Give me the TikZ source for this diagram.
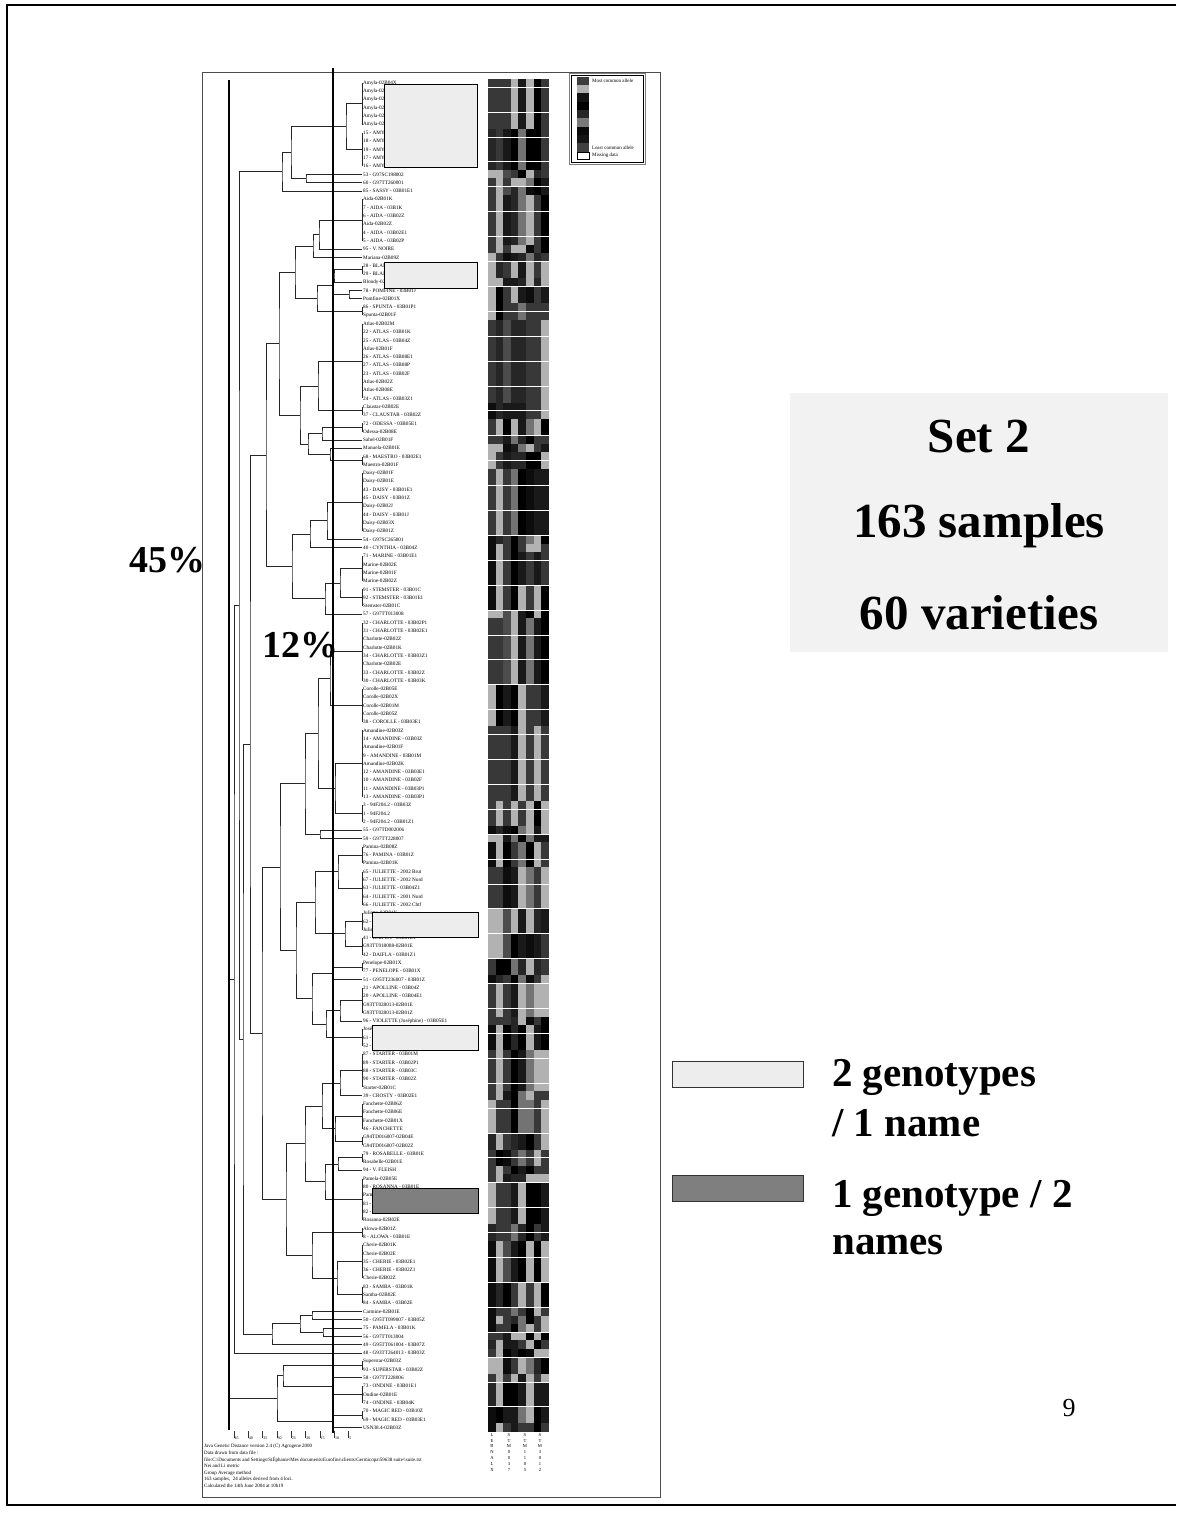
\documentclass[tikz,border=0pt]{standalone}
\usepackage{fontspec}
\setmainfont{Liberation Serif}
\usetikzlibrary{positioning}
\definecolor{SetPanel}{HTML}{F2F2F2}
\definecolor{BoxLight}{HTML}{EDEDED}
\definecolor{BoxDark}{HTML}{7F7F7F}
\definecolor{FrameGray}{HTML}{808080}
% vertical bar joining identical leaves, midpoint named #1
\newcommand{\tgroup}[3]{\draw[tree] (l#2.west) -- (l#3.west) coordinate[midway] (#1);}
% bracket joining #3 and #4 at x=#2, join point named #1
\newcommand{\tjoin}[4]{%
  \path (#3) -- (#4) coordinate[midway] (m#1);
  \coordinate (x#1) at (#2,0);
  \coordinate (#1) at (x#1 |- m#1);
  \draw[tree] (#3) -| (#1) |- (#4);}

\begin{document}
\begin{tikzpicture}[x=1pt,y=-1pt,
  tree/.style={draw=black!85,line width=.75pt},
  leaf/.style={anchor=west,inner xsep=1pt,inner ysep=0pt,font=\fontsize{5.2}{6}\selectfont},
  tiny/.style={anchor=west,inner sep=0pt,font=\fontsize{5}{6}\selectfont},
  cut/.style={draw=black,line width=1.7pt},
  hibox/.style={draw=black,line width=1pt,fill=BoxLight},
  big/.style={font=\fontsize{41}{49}\selectfont\bfseries,anchor=base west,inner sep=0pt},
  huge/.style={font=\fontsize{49}{58}\selectfont\bfseries,inner sep=0pt}]
\useasboundingbox (0,0) rectangle (1176,1513);

% page frame and plot frame
\draw[line width=2.5pt] (1176,5) -- (7,5) -- (7,1505) -- (1176,1505);
\draw[black!70,line width=.8pt] (202,72) rectangle (660,1497);

% allele map
\pgfmathsetseed{12}
\foreach \a/\b in {1/6,7/11,12/12,13/13,14/14,15/20,21/21,22/22,23/24,25/25,26/27,28/29,30/39,40/41,42/43,44/44,45/45,46/47,48/55,56/56,57/57,58/61,62/64,65/65,66/73,74/78,79/87,88/90,91/91,92/92,93/95,96/100,101/103,104/106,107/108,109/109,110/113,114/114,115/117,118/122,123/123,124/127,128/129,130/131,132/132,133/133,134/138,139/140,141/145,146/148,149/149,150/150,151/151,152/152,153/153,154/154,155/156,157/157,158/160,161/162,163/163}{
  \foreach \j in {0,...,7}{
    \pgfmathrandominteger{\k}{0}{5}
    \pgfmathtruncatemacro{\g}{{78,78,78,85,95,30, 30,30,30,78,85,100, 78,78,90,95,100,70, 85,90,100,78,55,30, 55,78,90,100,30,85, 30,30,78,55,95,100, 90,78,100,85,30,78, 30,78,90,100,78,30}[\j*6+\k]}
    \fill[black!\g] ({488+\j*7.6},{83+(\a-1)*8.3-4.15}) rectangle ({488+(\j+1)*7.6},{83+(\b-1)*8.3+4.15});
  }
}
\foreach \r in {1,4,...,160}
  \draw[white,line width=.8pt] (488,{83+(\r-1)*8.3+4.15}) -- (549,{83+(\r-1)*8.3+4.15});

% leaves
\foreach \lab [count=\i] in {Amyla-02B04X, Amyla-02B01E, Amyla-02B01K, Amyla-02B02E, Amyla-02B02Z, Amyla-02B01F,
  15 - AMYLA - 03B01E1, 18 - AMYLA - 03B02Z, 19 - AMYLA - 03B03K, 17 - AMYLA - 03B02E1, 16 - AMYLA - 03B01Z,
  53 - G97SC198002, 60 - G97TT260001, 85 - SASSY - 03B01E1,
  Aida-02B01K, 7 - AIDA - 03B1K, 6 - AIDA - 03B02Z, Aida-02B02Z, 4 - AIDA - 03B02E1, 5 - AIDA - 03B02P,
  95 - V. NOIRE, Mariana-02B09Z, 28 - BLANCHE - 03B01K, 29 - BLANCHE - 03B02Z, Blondy-02B01E,
  78 - POMFINE - 03B01J, Pomfine-02B01X, 86 - SPUNTA - 03B01P1, Spunta-02B01F,
  Atlas-02B02M, 22 - ATLAS - 03B01K, 25 - ATLAS - 03B04Z, Atlas-02B01F, 26 - ATLAS - 03B08E1,
  27 - ATLAS - 03B08P, 23 - ATLAS - 03B02F, Atlas-02B02Z, Atlas-02B08E, 24 - ATLAS - 03B03Z1,
  Claustar-02B02E, 37 - CLAUSTAR - 03B02Z, 72 - ODESSA - 03B05E1, Odessa-02B08E, Sahel-02B01F,
  Manuela-02B01E, 68 - MAESTRO - 03B02E1, Maestro-02B01F,
  Daisy-02B01F, Daisy-02B01E, 43 - DAISY - 03B01E1, 45 - DAISY - 03B01Z, Daisy-02B02J,
  44 - DAISY - 03B01J, Daisy-02B03X, Daisy-02B01Z, 54 - G97SC265001, 40 - CYNTHIA - 03B04Z,
  71 - MARINE - 03B01E1, Marine-02B02E, Marine-02B01F, Marine-02B02Z,
  91 - STEMSTER - 03B01C, 92 - STEMSTER - 03B01E1, Stemster-02B01C, 57 - G97TT013008,
  32 - CHARLOTTE - 03B02P1, 31 - CHARLOTTE - 03B02E1, Charlotte-02B02Z, Charlotte-02B01K,
  34 - CHARLOTTE - 03B03Z1, Charlotte-02B02E, 33 - CHARLOTTE - 03B02Z, 30 - CHARLOTTE - 03B03K,
  Corolle-02B05E, Corolle-02B02X, Corolle-02B01M, Corolle-02B05Z, 38 - COROLLE - 03B03E1,
  Amandine-02B03Z, 14 - AMANDINE - 03B03Z, Amandine-02B01F, 9 - AMANDINE - 03B01M, Amandine-02B02K,
  12 - AMANDINE - 03B03E1, 10 - AMANDINE - 03B02F, 11 - AMANDINE - 03B03P1, 13 - AMANDINE - 03B03P1,
  3 - 94F204.2 - 03B03Z, 1 - 94F204.2, 2 - 94F204.2 - 03B01Z1, 55 - G97TD002006, 59 - G97TT228007,
  Pamina-02B08Z, 76 - PAMINA - 03B01Z, Pamina-02B01K,
  65 - JULIETTE - 2002 Brut, 67 - JULIETTE - 2002 Nord, 63 - JULIETTE - 03B04Z1, 64 - JULIETTE - 2001 Nord,
  66 - JULIETTE - 2002 Chtf, Juliette-02B01K, 62 - JULIETTE - 03B02Z, Juliette-02B02E,
  41 - DAIFLA - 03B01E1, G93TT018008-02B01E, 42 - DAIFLA - 03B01Z1,
  Penelope-02B01X, 77 - PENELOPE - 03B01X, 51 - G95TT236007 - 03B01Z,
  21 - APOLLINE - 03B04Z, 20 - APOLLINE - 03B04E1, G93TT028013-02B01E, G93TT028013-02B01Z,
  96 - VIOLETTE (Joséphine) - 03B05E1, Joséphine-02B01E, 61 - JOSEPHINE - 03B01Z, 52 - G95TT236008,
  87 - STARTER - 03B01M, 89 - STARTER - 03B02P1, 88 - STARTER - 03B03C, 90 - STARTER - 03B02Z,
  Starter-02B01C, 39 - CROSTY - 03B02E1,
  Fanchette-02B06Z, Fanchette-02B06E, Fanchette-02B01X, 46 - FANCHETTE,
  G94TD016007-02B04E, G94TD016007-02B02Z, 79 - ROSABELLE - 03B01E, Rosabelle-02B01E, 94 - V. FLEISH,
  Pamela-02B05E, 80 - ROSANNA - 03B01E, Pamela-02B01K, 81 - PAMELA - 03B01E, 82 - PAMELA - 03B02Z,
  Rosanna-02B02E, Alowa-02B01Z, 8 - ALOWA - 03B01E,
  Cherie-02B01K, Cherie-02B02E, 35 - CHERIE - 03B02E1, 36 - CHERIE - 03B02Z1, Cherie-02B02Z,
  83 - SAMBA - 03B01K, Samba-02B02E, 84 - SAMBA - 03B02E, Carmine-02B01E,
  50 - G95TT099007 - 03B05Z, 75 - PAMELA - 03B01K, 56 - G97TT013004,
  49 - G95TT061004 - 03B07Z, 48 - G93TT264013 - 03B03Z,
  Superstar-02B03Z, 93 - SUPERSTAR - 03B02Z, 58 - G97TT228006,
  73 - ONDINE - 03B01E1, Ondine-02B01E, 74 - ONDINE - 03B04K,
  70 - MAGIC RED - 03B10Z, 69 - MAGIC RED - 03B03E1, USN38.4-02B03Z}
  \node[leaf] (l\i) at (362,{83+(\i-1)*8.3}) {\lab};

% tree, top part
\tgroup{ga}{1}{6}
\tgroup{gb}{7}{11}
\tjoin{n1}{346}{ga}{gb}
\tjoin{n2}{306}{l12.west}{l13.west}
\tjoin{n3}{291}{n1}{n2}
\tjoin{n4}{282}{n3}{l14.west}
\tgroup{gc}{15}{20}
\tjoin{n5}{319}{gc}{l21.west}
\tjoin{n6}{313}{n5}{l22.west}
\tgroup{gd}{23}{24}
\tjoin{n7}{334}{gd}{l25.west}
\tjoin{n8}{349}{l26.west}{l27.west}
\tjoin{n9}{332}{n7}{n8}
\tgroup{gf}{28}{29}
\tjoin{n10}{317}{n9}{gf}
\tjoin{n11}{295}{n6}{n10}
\tgroup{gg}{30}{39}
\tgroup{gh}{40}{41}
\tjoin{n12}{318}{gg}{gh}
\tgroup{gi}{42}{43}
\tjoin{n13}{322}{gi}{l44.west}
\tgroup{gj}{46}{47}
\tjoin{n14}{330}{l45.west}{gj}
\tjoin{n15}{308}{n13}{n14}
\tjoin{n16}{300}{n12}{n15}
\tjoin{n17}{279}{n11}{n16}
\tgroup{gk}{48}{55}
\tjoin{n18}{327}{gk}{l56.west}
\tjoin{n19}{310}{n18}{l57.west}
\tgroup{gl}{58}{61}
\tgroup{gm}{62}{64}
\tjoin{n20}{340}{gl}{gm}
\tjoin{n21}{325}{n20}{l65.west}
\tjoin{n22}{292}{n19}{n21}
\tjoin{n23}{266}{n17}{n22}
% middle part
\tgroup{go}{66}{73}
\tgroup{gp}{74}{78}
\tjoin{n24}{330}{go}{gp}
\tgroup{gq}{79}{87}
\tgroup{gr}{88}{90}
\tjoin{n25}{335}{gq}{gr}
\tjoin{n26}{318}{n24}{n25}
\tjoin{n27}{320}{l91.west}{l92.west}
\tjoin{n28}{305}{n26}{n27}
\tgroup{gs}{93}{95}
\tgroup{gt}{96}{100}
\tjoin{n29}{338}{gs}{gt}
\tgroup{gu}{101}{103}
\tgroup{gv}{104}{106}
\tjoin{n30}{345}{gu}{gv}
\tjoin{n31}{315}{n29}{n30}
\tgroup{gw}{107}{108}
\tjoin{n32}{332}{gw}{l109.west}
\tgroup{gx}{110}{113}
\tjoin{n33}{340}{gx}{l114.west}
\tgroup{gy}{115}{117}
\tjoin{n34}{326}{n33}{gy}
\tjoin{n35}{312}{n32}{n34}
\tjoin{n36}{296}{n31}{n35}
\tjoin{n37}{280}{n28}{n36}
\tgroup{gz}{118}{122}
\tjoin{n38}{340}{gz}{l123.west}
\tgroup{ha}{124}{127}
\tgroup{hb}{128}{129}
\tjoin{n39}{335}{ha}{hb}
\tjoin{n40}{322}{n38}{n39}
\tgroup{hc}{130}{131}
\tjoin{n41}{338}{hc}{l132.west}
\tgroup{hd}{133}{138}
\tjoin{n42}{325}{n41}{hd}
\tjoin{n43}{305}{n40}{n42}
\tgroup{he}{139}{140}
\tgroup{hf}{141}{145}
\tgroup{hg}{146}{148}
\tjoin{n44}{337}{hf}{hg}
\tjoin{n45}{312}{he}{n44}
\tjoin{n46}{286}{n43}{n45}
\tjoin{n47}{262}{n37}{n46}
\tjoin{n48}{250}{n23}{n47}
% bottom part and root
\tjoin{n49}{312}{l149.west}{l150.west}
\tjoin{n50}{323}{l151.west}{l152.west}
\tjoin{n51}{300}{n49}{n50}
\tjoin{n52}{272}{n51}{l153.west}
\tjoin{n53}{243}{n48}{n52}
\tjoin{n54}{239}{n4}{n53}
\tjoin{n55}{234}{n54}{l154.west}
\tgroup{hh}{155}{156}
\tgroup{hi}{158}{160}
\tjoin{n56}{333}{l157.west}{hi}
\tjoin{n57}{283}{hh}{n56}
\tgroup{hj}{161}{162}
\tjoin{n58}{333}{hj}{l163.west}
\tjoin{n59}{277}{n57}{n58}
\tjoin{n60}{229}{n55}{n59}

% cut levels
\draw[cut] (229,80) -- (229,1430);
\draw[cut] (333,68) -- (333,1433);

% distance axis
\foreach \v in {45,40,...,5}{
  \draw[black!80,line width=.5pt] ({363-\v*2.87},1431) -- ({363-\v*2.87},1438);
  \node[anchor=west,inner sep=0pt,font=\fontsize{4}{5}\selectfont] (t\v) at ({363.5-\v*2.87},1438) {\v};
}

% highlighted name groups
\draw[hibox] (384,84) rectangle (477,167);
\draw[hibox] (384,262) rectangle (477,288);
\draw[hibox] (372,912) rectangle (478,937);
\draw[hibox] (372,1025) rectangle (478,1050);
\draw[hibox,fill=BoxDark] (372,1188) rectangle (478,1213);

% allele legend
\draw[FrameGray,line width=.6pt] (569,73) rectangle (645,164);
\draw[line width=.6pt] (571,75) rectangle (643,162);
\foreach \c [count=\k] in {black!76,black!30,black!92,black,black!85,black!52,black!96,black!92,black!75}
  \fill[\c] (577,{81+(\k-1)*8.3-4.15}) rectangle (589,{81+(\k-1)*8.3+4.15});
\draw[line width=.5pt,fill=white] (577,{155.7-3.3}) rectangle (589,{155.7+3.3});
\node[tiny] (most) at (592,81) {Most common allele};
\node[tiny] (least) at (592,147.4) {Least common allele};
\node[tiny] (miss) at (592,155.7) {Missing data};

% locus names
\node[anchor=north,inner sep=0pt,align=center,font=\fontsize{4.6}{5.8}\selectfont] (loc1) at (492,1433) {L\\E\\R\\N\\A\\L\\X};
\node[anchor=north,inner sep=0pt,align=center,font=\fontsize{4.6}{5.8}\selectfont] (loc2) at (509,1433) {S\\T\\M\\0\\0\\3\\7};
\node[anchor=north,inner sep=0pt,align=center,font=\fontsize{4.6}{5.8}\selectfont] (loc3) at (525,1433) {S\\T\\M\\1\\1\\0\\5};
\node[anchor=north,inner sep=0pt,align=center,font=\fontsize{4.6}{5.8}\selectfont] (loc4) at (540,1433) {S\\T\\M\\3\\0\\1\\2};

% footer of the plot
\foreach \t [count=\i] in {Java Genetic Distance version 2.4 (C) Agrogene 2000, Data drawn from data file :,
  {file:C:\textbackslash Documents and Settings\textbackslash StÉphanie\textbackslash Mes documents\textbackslash Eurofins\textbackslash clients\textbackslash Germicopa\textbackslash 59638 suite\textbackslash\textbackslash suite.txt},
  Nei and Li metric, Group Average method, {163 samples,\ \ 24 alleles derived from 4 loci.},
  Calculated the 14th June 2004 at 10h19}
  \node[tiny] (f\i) at (204,{1446+(\i-1)*6.7}) {\t};

% slide texts
\node[font=\fontsize{38}{44}\selectfont\bfseries,inner sep=0pt] (p45) at (167,560) {45\%};
\node[font=\fontsize{38}{44}\selectfont\bfseries,inner sep=0pt] (p12) at (300,645) {12\%};
\fill[SetPanel] (790,393) rectangle (1168,652);
\node[huge] (set) at (979,437) {Set 2};
\node[huge] (samp) at (979,526) {163 samples};
\node[huge] (vari) at (979,613) {60 varieties};

\draw[draw=black!80,line width=.8pt,fill=BoxLight] (672,1061) rectangle (803,1087);
\node[big] (g1) at (832,1086) {2 genotypes};
\node[big] (g2) at (832,1136) {/ 1 name};
\draw[draw=black!80,line width=.8pt,fill=BoxDark] (672,1175) rectangle (803,1201);
\node[big] (g3) at (832,1207) {1 genotype / 2};
\node[big] (g4) at (832,1254) {names};

\node[font=\fontsize{26}{30}\selectfont] (pg) at (1069,1408) {9};
\end{tikzpicture}
\end{document}
